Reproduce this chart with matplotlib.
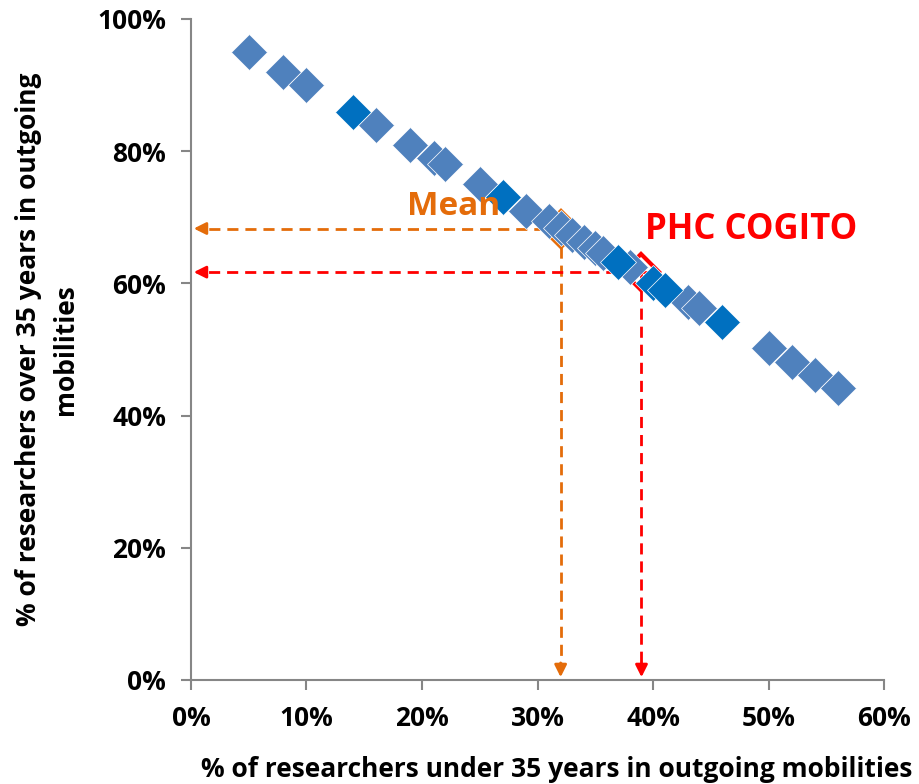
import numpy as np
import matplotlib.pyplot as plt
from matplotlib.ticker import PercentFormatter

plt.rcParams['font.family'] = ['Open Sans', 'DejaVu Sans']
plt.rcParams['font.weight'] = 'bold'

# share of researchers under 35 vs over 35 (light blue series)
under35 = [0.05, 0.08, 0.10, 0.16, 0.19, 0.21, 0.22, 0.25, 0.29, 0.31, 0.32, 0.33,
           0.34, 0.35, 0.357, 0.38, 0.43, 0.44, 0.50, 0.52, 0.54, 0.56]
over35 = [0.95, 0.92, 0.90, 0.84, 0.81, 0.79, 0.78, 0.75, 0.71, 0.695, 0.684, 0.673,
          0.663, 0.653, 0.646, 0.625, 0.572, 0.563, 0.502, 0.481, 0.461, 0.442]
# darker blue series
under35_b = [0.14, 0.27, 0.37, 0.40, 0.41, 0.46]
over35_b = [0.86, 0.73, 0.633, 0.60, 0.59, 0.542]

mean_pt = (0.32, 0.683)
phc_pt = (0.39, 0.617)

c_light = '#4F81BD'
c_dark = '#0070C0'
c_mean = '#E46C0A'
c_phc = '#FF0000'

fig = plt.figure(figsize=(9.19, 7.84), dpi=100)
ax = fig.add_axes([0.2078, 0.1327, 0.7542, 0.8431])

# highlighted points drawn first, so the series overlaps them
ax.plot(*mean_pt, marker='D', ms=18, mfc='none', mec=c_mean, mew=3, zorder=2)
ax.plot(*phc_pt, marker='D', ms=18, mfc='none', mec=c_phc, mew=3, zorder=2)

ax.plot(under35, over35, ls='none', marker='D', ms=18, color=c_light, mec='white', mew=0.5, zorder=3)
ax.plot(under35_b, over35_b, ls='none', marker='D', ms=18, color=c_dark, mec='white', mew=0.5, zorder=3)

def guide(pt, color, xend):
    x, y = pt
    ax.plot([xend, 0.006], [y, y], ls='--', color=color, lw=2, dashes=(4, 2.5), zorder=1)
    ax.plot([x, x], [y, 0.015], ls='--', color=color, lw=2, dashes=(4, 2.5), zorder=1)
    ax.annotate('', xy=(0, y), xytext=(0.015, y),
                arrowprops=dict(arrowstyle='-|>', color=color, lw=2, mutation_scale=18), annotation_clip=False)
    ax.annotate('', xy=(x, 0), xytext=(x, 0.03),
                arrowprops=dict(arrowstyle='-|>', color=color, lw=2, mutation_scale=18), annotation_clip=False)

guide(mean_pt, c_mean, 0.338)
guide(phc_pt, c_phc, 0.40)

ax.text(0.227, 0.703, 'Mean', color=c_mean, fontsize=24, fontweight='bold', ha='center', va='baseline')
ax.text(0.485, 0.667, 'PHC COGITO', color=c_phc, fontsize=25, fontweight='bold', ha='center', va='baseline')

ax.set_xlim(0, 0.6)
ax.set_ylim(0, 1.0)
ax.set_xticks(np.arange(0, 0.61, 0.1))
ax.set_yticks(np.arange(0, 1.01, 0.2))
ax.xaxis.set_major_formatter(PercentFormatter(1.0, decimals=0))
ax.yaxis.set_major_formatter(PercentFormatter(1.0, decimals=0))

for s in ['top', 'right']:
    ax.spines[s].set_visible(False)
for s in ['left', 'bottom']:
    ax.spines[s].set_color('#868686')
    ax.spines[s].set_linewidth(1.5)
ax.tick_params(colors='#868686', length=7, width=1.5, labelsize=19, labelcolor='black', pad=11)
for lab in ax.get_xticklabels() + ax.get_yticklabels():
    lab.set_fontweight('bold')

ax.set_xlabel('% of researchers under 35 years in outgoing mobilities', fontsize=19, fontweight='bold', labelpad=17)
ax.xaxis.label.set_x(0.528)
ax.set_ylabel('% of researchers over 35 years in outgoing\nmobilities', fontsize=19, fontweight='bold',
              labelpad=13, linespacing=1.5)

fig.savefig('out.png', dpi=100)
